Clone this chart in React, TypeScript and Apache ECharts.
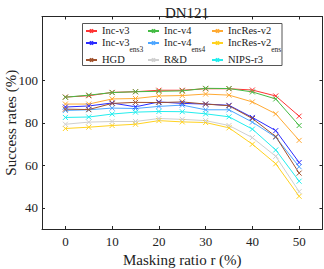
import React, { useEffect, useRef } from "react";
import * as echarts from "echarts";

const ratios = [0, 5, 10, 15, 20, 25, 30, 35, 40, 45, 50];
const xTicks = [0, 10, 20, 30, 40, 50];
const yTicks = [40, 60, 80, 100];

const incV3 = [92.1, 92.7, 94.3, 94.6, 95.3, 95.3, 96.0, 96.0, 95.4, 92.6, 83.1];
const incV4 = [92.0, 93.0, 94.2, 94.6, 94.8, 95.0, 96.2, 96.1, 94.5, 91.2, 78.7];
const incResV2 = [88.8, 88.8, 91.2, 91.4, 92.6, 92.8, 93.5, 93.0, 89.8, 84.2, 71.7];
const incV3ens3 = [87.4, 87.9, 89.3, 87.5, 89.8, 89.1, 88.8, 88.2, 82.5, 76.3, 61.3];
const incV4ens4 = [85.8, 86.1, 86.9, 86.7, 87.7, 88.3, 86.1, 86.1, 80.3, 73.2, 59.3];
const incResV2ens = [77.3, 77.9, 78.7, 79.3, 81.0, 80.4, 80.1, 77.6, 69.9, 60.7, 45.4];
const hgd = [86.4, 86.2, 89.1, 89.6, 89.5, 89.8, 88.8, 88.0, 82.0, 73.5, 56.3];
const rd = [79.3, 80.3, 80.6, 80.6, 82.0, 81.6, 81.0, 78.7, 73.0, 64.2, 47.6];
const nipsR3 = [82.5, 82.7, 84.1, 85.0, 85.3, 85.2, 84.2, 82.8, 77.0, 67.2, 52.5];

const seriesDefs = [
  { name: "Inc-v3", data: incV3, color: "#ff3333" },
  { name: "Inc-v4", data: incV4, color: "#44bb44" },
  { name: "IncRes-v2", data: incResV2, color: "#ffaa33" },
  { name: "Inc-v3ens3", data: incV3ens3, color: "#2a2aff" },
  { name: "Inc-v4ens4", data: incV4ens4, color: "#4da6ff" },
  { name: "IncRes-v2ens", data: incResV2ens, color: "#ffd21f" },
  { name: "HGD", data: hgd, color: "#a0522d" },
  { name: "R&D", data: rd, color: "#cfcfcf" },
  { name: "NIPS-r3", data: nipsR3, color: "#22eeee" },
];

const legendCols = [
  ["Inc-v3", "Inc-v3ens3", "HGD"],
  ["Inc-v4", "Inc-v4ens4", "R&D"],
  ["IncRes-v2", "IncRes-v2ens", "NIPS-r3"],
];
const legendLefts = [85, 147, 211];

const SERIF = "Liberation Serif";
const AXIS = "#262626";
const TXT = "#222";

function fmtName(n: string) {
  if (n === "Inc-v3ens3") return "{a|Inc-v3}{s|ens3}";
  if (n === "Inc-v4ens4") return "{a|Inc-v4}{s|ens4}";
  if (n === "IncRes-v2ens") return "{a|IncRes-v2}{s|ens}";
  return "{a|" + n + "}";
}

export default function App() {
  const ref = useRef<HTMLDivElement>(null);
  useEffect(() => {
    if (!ref.current) return;
    const chart = echarts.init(ref.current, undefined, { renderer: "svg" });
    const cross = "path://M0,0L10,10M10,0L0,10";
    const axisCommon = {
      type: "value" as const,
      axisLine: { show: true, onZero: false, lineStyle: { color: AXIS, width: 1 } },
      splitLine: { show: false },
    };
    chart.setOption({
      animation: false,
      title: {
        text: "DN121",
        left: 182,
        top: 0,
        textAlign: "center",
        textStyle: { fontFamily: SERIF, fontSize: 15, fontWeight: "normal", color: TXT },
      },
      grid: { left: 42, right: 1.5, top: 16.5, bottom: 40, containLabel: false, outerBoundsMode: "none" },
      xAxis: [
        {
          ...axisCommon,
          min: -5,
          max: 55,
          name: "Masking ratio r (%)",
          nameLocation: "middle",
          nameGap: 23,
          nameMoveOverlap: false,
          nameTextStyle: { fontFamily: SERIF, fontSize: 15, color: TXT },
          axisTick: { inside: true, length: 3, customValues: xTicks, lineStyle: { color: AXIS } },
          axisLabel: { customValues: xTicks, fontFamily: SERIF, fontSize: 13, color: TXT, margin: 6 },
        },
        {
          ...axisCommon,
          position: "top",
          min: -5,
          max: 55,
          axisTick: { inside: true, length: 3, customValues: xTicks, lineStyle: { color: AXIS } },
          axisLabel: { show: false },
        },
      ],
      yAxis: [
        {
          ...axisCommon,
          min: 30,
          max: 130,
          name: "Success rates (%)",
          nameLocation: "middle",
          nameGap: 24,
          nameMoveOverlap: false,
          nameTextStyle: { fontFamily: SERIF, fontSize: 15, color: TXT },
          axisTick: { inside: true, length: 3, customValues: yTicks, lineStyle: { color: AXIS } },
          axisLabel: { customValues: yTicks, fontFamily: SERIF, fontSize: 13, color: TXT, margin: 4 },
        },
        {
          ...axisCommon,
          position: "right",
          min: 30,
          max: 130,
          axisTick: { inside: true, length: 3, customValues: yTicks, lineStyle: { color: AXIS } },
          axisLabel: { show: false },
        },
      ],
      legend: legendCols.map((col, i) => ({
        data: col,
        orient: "vertical",
        left: legendLefts[i],
        top: 25,
        itemGap: 1,
        itemWidth: 11,
        itemHeight: 4,
        padding: 0,
        formatter: fmtName,
        textStyle: {
          fontFamily: SERIF,
          fontSize: 10.5,
          color: TXT,
          rich: {
            a: { fontFamily: SERIF, fontSize: 10.5, color: TXT, lineHeight: 12, verticalAlign: "top" },
            s: { fontFamily: SERIF, fontSize: 7.5, color: TXT, lineHeight: 9, verticalAlign: "top", padding: [8, 0, 0, 0] },
          },
        },
      })),
      graphic: [
        {
          type: "rect",
          shape: { x: 82.5, y: 23.5, width: 199.5, height: 42 },
          style: { fill: "#fff", stroke: "#555", lineWidth: 1 },
          z: 0,
          zlevel: 0,
          silent: true,
        },
      ],
      series: seriesDefs.map((s) => ({
        name: s.name,
        type: "line",
        data: ratios.map((r, i) => [r, s.data[i]]),
        symbol: cross,
        symbolSize: 5,
        showSymbol: true,
        lineStyle: { color: s.color, width: 1 },
        itemStyle: { color: s.color, borderColor: s.color, borderWidth: 1 },
        z: 3,
      })),
    });
    return () => chart.dispose();
  }, []);
  return <div ref={ref} style={{ position: "absolute", left: 0, top: 0, width: 324, height: 269 }} />;
}
